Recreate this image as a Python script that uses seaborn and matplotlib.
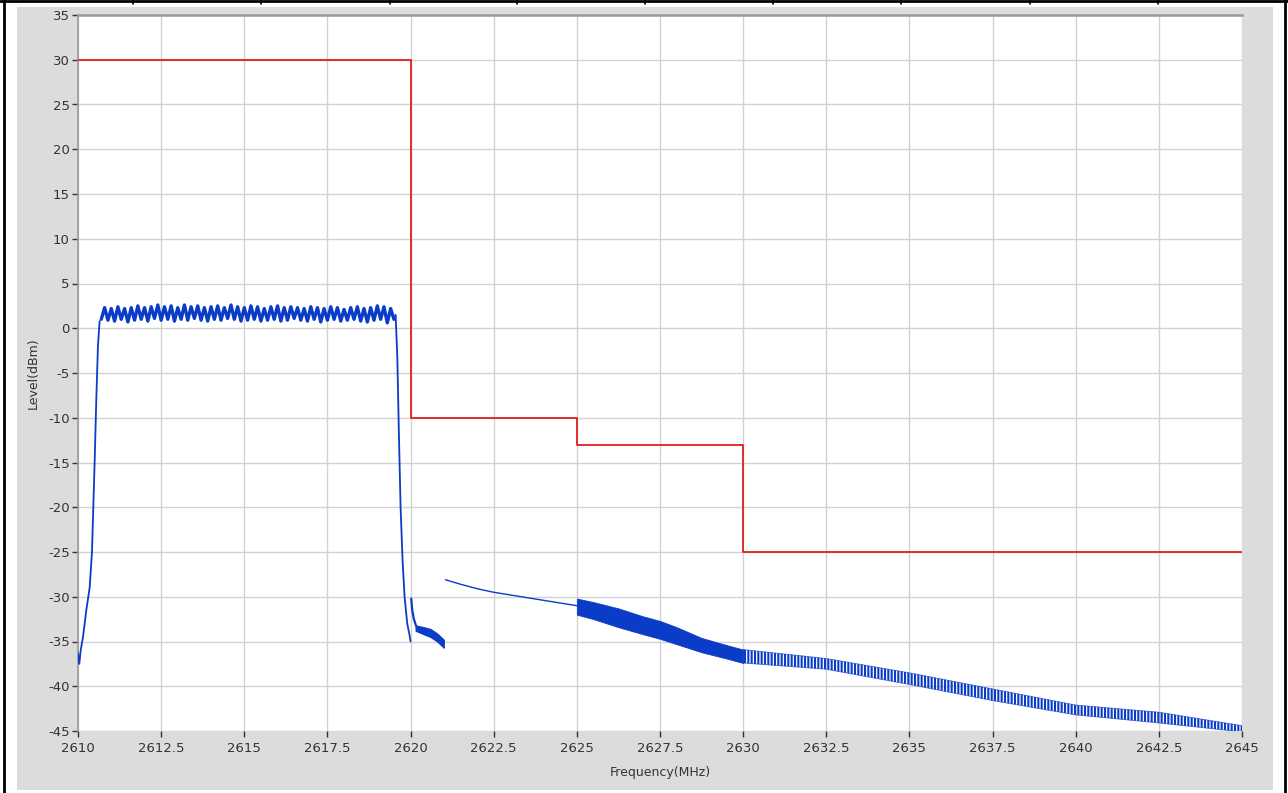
"""
Spectrum emission mask plot: measured level vs limit line
"""
import numpy as np
import pandas as pd
import matplotlib
matplotlib.use('Agg')
import matplotlib.pyplot as plt
from matplotlib.patches import Rectangle
from matplotlib.lines import Line2D
import seaborn as sns

# ─────────────────────────────────────────────
# Data
# ─────────────────────────────────────────────
# limit mask (steps-post)
lim_f  = [2610, 2620, 2625, 2630, 2645]
lim_lv = [30, -10, -13, -25, -25]

# rising edge of the carrier
rise_f  = [2610.0, 2610.04, 2610.08, 2610.15, 2610.25, 2610.35, 2610.42,
           2610.5, 2610.55, 2610.6, 2610.65]
rise_lv = [-36.3, -37.5, -36.0, -34.5, -31.5, -29.0, -25.0,
           -15.0, -8.0, -2.0, 0.8]

# flat top with ripple
top_f = [2610.7, 2610.8, 2610.9, 2611.0, 2611.1, 2611.2, 2611.3, 2611.4, 2611.5, 2611.6,
         2611.7, 2611.8, 2611.9, 2612.0, 2612.1, 2612.2, 2612.3, 2612.4, 2612.5, 2612.6,
         2612.7, 2612.8, 2612.9, 2613.0, 2613.1, 2613.2, 2613.3, 2613.4, 2613.5, 2613.6,
         2613.7, 2613.8, 2613.9, 2614.0, 2614.1, 2614.2, 2614.3, 2614.4, 2614.5, 2614.6,
         2614.7, 2614.8, 2614.9, 2615.0, 2615.1, 2615.2, 2615.3, 2615.4, 2615.5, 2615.6,
         2615.7, 2615.8, 2615.9, 2616.0, 2616.1, 2616.2, 2616.3, 2616.4, 2616.5, 2616.6,
         2616.7, 2616.8, 2616.9, 2617.0, 2617.1, 2617.2, 2617.3, 2617.4, 2617.5, 2617.6,
         2617.7, 2617.8, 2617.9, 2618.0, 2618.1, 2618.2, 2618.3, 2618.4, 2618.5, 2618.6,
         2618.7, 2618.8, 2618.9, 2619.0, 2619.1, 2619.2, 2619.3, 2619.4, 2619.5]
top_lv = [1.0, 2.3, 0.9, 2.2, 0.8, 2.4, 1.0, 2.2, 0.7, 2.3,
          0.9, 2.5, 1.0, 2.3, 0.8, 2.4, 1.1, 2.6, 0.9, 2.4,
          1.0, 2.5, 0.8, 2.3, 1.0, 2.6, 0.9, 2.4, 1.1, 2.5,
          0.9, 2.3, 0.8, 2.4, 1.0, 2.5, 0.9, 2.3, 1.1, 2.6,
          1.0, 2.4, 0.8, 2.3, 0.9, 2.5, 1.0, 2.4, 0.8, 2.2,
          0.9, 2.4, 1.0, 2.5, 0.8, 2.3, 0.9, 2.4, 1.1, 2.3,
          0.9, 2.2, 0.8, 2.4, 1.0, 2.3, 0.7, 2.2, 0.9, 2.4,
          1.0, 2.3, 0.8, 2.1, 0.9, 2.3, 1.0, 2.4, 0.8, 2.2,
          0.7, 2.3, 0.9, 2.5, 1.0, 2.4, 0.6, 2.2, 1.0]

# falling edge
fall_f  = [2619.5, 2619.55, 2619.6, 2619.65, 2619.7, 2619.76, 2619.82, 2619.9, 2619.97, 2620.0]
fall_lv = [1.0, 1.5, -3.0, -12.0, -20.0, -26.0, -30.0, -33.0, -34.3, -35.0]

# tail just after the edge
tail_f  = [2620.02, 2620.05, 2620.1, 2620.17]
tail_lv = [-30.2, -31.5, -32.5, -33.3]
tail_band_f  = [2620.15, 2620.4, 2620.6, 2620.8, 2621.0]
tail_band_hi = [-33.2, -33.4, -33.6, -34.1, -34.8]
tail_band_lo = [-33.8, -34.2, -34.5, -35.0, -35.7]

# sparse sweep 2621 - 2625
slope_f  = [2621.05, 2621.5, 2622.0, 2622.5, 2623.0, 2623.5, 2624.0, 2624.5, 2625.0]
slope_lv = [-28.1, -28.6, -29.1, -29.5, -29.8, -30.1, -30.4, -30.7, -31.0]

# dense band 2625 - 2630
dense_f  = [2625, 2625.5, 2626.25, 2627, 2627.5, 2628, 2628.75, 2629.5, 2630]
dense_hi = [-30.2, -30.6, -31.3, -32.2, -32.7, -33.4, -34.6, -35.4, -35.9]
dense_lo = [-32.0, -32.5, -33.4, -34.2, -34.7, -35.3, -36.2, -36.9, -37.4]

# hatched band 2630 - 2645
far_f  = [2630, 2632.5, 2635, 2637.5, 2640, 2642.5, 2645]
far_hi = [-35.9, -36.9, -38.5, -40.3, -42.1, -42.9, -44.4]
far_lo = [-37.4, -38.1, -39.8, -41.6, -43.2, -44.1, -45.1]

x_ticks = [2610, 2612.5, 2615, 2617.5, 2620, 2622.5, 2625, 2627.5, 2630,
           2632.5, 2635, 2637.5, 2640, 2642.5, 2645]
y_ticks = list(range(-45, 36, 5))

# ─────────────────────────────────────────────
# Style
# ─────────────────────────────────────────────
BLUE  = '#0a3cc8'
RED   = '#e01e1e'
PANEL = '#dcdcdc'
GRID  = '#d2d2d2'
SPINE = '#9a9a9a'
TXT   = '#333333'

sns.set_style('white')
plt.rcParams['font.family'] = ['DejaVu Sans']
plt.rcParams['axes.unicode_minus'] = False
plt.rcParams['hatch.linewidth'] = 1.5

fig = plt.figure(figsize=(12.88, 7.93), dpi=100, facecolor='white')

# grey panel behind the plot
fig.patches.append(Rectangle((17 / 1288, 1 - 790 / 793), 1256 / 1288, 783 / 793,
                             transform=fig.transFigure, facecolor=PANEL,
                             edgecolor='none', zorder=-5))
# outer frame (table cell borders)
fig.lines.append(Line2D([4 / 1288, 4 / 1288], [0, 1], transform=fig.transFigure,
                        color='black', lw=2))
fig.lines.append(Line2D([1285 / 1288, 1285 / 1288], [0, 1], transform=fig.transFigure,
                        color='black', lw=2))
fig.lines.append(Line2D([0, 1], [1 - 1.2 / 793, 1 - 1.2 / 793], transform=fig.transFigure,
                        color='black', lw=2))
for xc in [133, 261, 390, 517, 645, 773, 901, 1030, 1158]:
    fig.lines.append(Line2D([xc / 1288, xc / 1288], [1 - 4 / 793, 1], transform=fig.transFigure,
                            color='black', lw=1.2))

ax = fig.add_axes([78 / 1288, 1 - 731 / 793, 1164 / 1288, 716 / 793])
ax.set_facecolor('white')

# limit line
sns.lineplot(x=lim_f, y=lim_lv, ax=ax, color=RED, lw=1.3, drawstyle='steps-post',
             sort=False, estimator=None, zorder=4)

# measured trace
for fx, lv, lw in [(rise_f, rise_lv, 1.3), (top_f, top_lv, 2.4), (fall_f, fall_lv, 1.3),
                   (tail_f, tail_lv, 1.6), (slope_f, slope_lv, 1.0)]:
    sns.lineplot(x=fx, y=lv, ax=ax, color=BLUE, lw=lw, sort=False, estimator=None, zorder=3)

ax.fill_between(tail_band_f, tail_band_lo, tail_band_hi, color=BLUE, lw=0.8, zorder=3)
ax.fill_between(dense_f, dense_lo, dense_hi, color=BLUE, lw=0.6, zorder=3)
ax.fill_between(far_f, far_lo, far_hi, facecolor='none', edgecolor=BLUE,
                hatch='|||||', lw=0, zorder=3)
ax.plot(far_f, far_hi, color=BLUE, lw=0.6, alpha=0.7, zorder=3)
ax.plot(far_f, far_lo, color=BLUE, lw=0.6, alpha=0.7, zorder=3)

ax.set_xlim(2610, 2645)
ax.set_ylim(-45, 35)
ax.set_xticks(x_ticks)
ax.set_xticklabels([f'{t:g}' for t in x_ticks])
ax.set_yticks(y_ticks)
ax.grid(True, color=GRID, lw=1)
ax.set_axisbelow(True)

for side in ['right', 'bottom']:
    ax.spines[side].set_visible(False)
ax.spines['top'].set_color(SPINE)
ax.spines['top'].set_linewidth(1.8)
ax.spines['left'].set_color(SPINE)
ax.spines['left'].set_linewidth(1.2)

ax.tick_params(axis='both', direction='out', length=4, width=1, color=TXT,
               labelcolor=TXT, labelsize=9.5, pad=2, left=True, bottom=True)
ax.tick_params(axis='x', pad=4)

ax.set_xlabel('Frequency(MHz)', fontsize=9, color=TXT, labelpad=8)
ax.set_ylabel('Level(dBm)', fontsize=9, color=TXT, labelpad=6)

fig.savefig('out.png', dpi=100, facecolor='white')
plt.close(fig)
print('[OK] Saved: out.png')
